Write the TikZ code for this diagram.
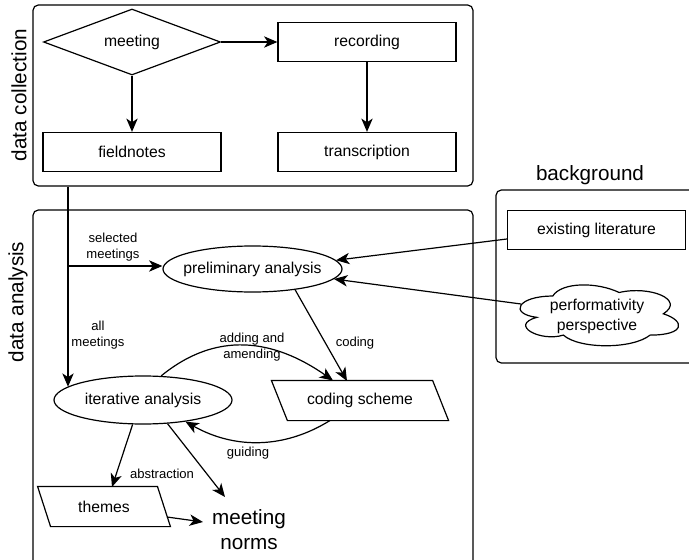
\documentclass[tikz,border=0pt]{standalone}
\usepackage{fontspec}
\setmainfont{Liberation Sans}
\usetikzlibrary{shapes.geometric,arrows.meta,calc}
\begin{document}
\begin{tikzpicture}[x=0.75pt,y=-0.75pt,line width=0.9pt,
  >={Stealth[length=10pt,width=8.5pt,inset=2.8pt]},
  base/.style={font=\fontsize{11.8}{15}\selectfont},
  small/.style={font=\fontsize{9.8}{12}\selectfont,align=center,inner sep=0pt},
  big/.style={font=\fontsize{15.5}{18.75}\selectfont,align=center,inner sep=0pt},
  rectbox/.style={base,draw,rectangle,inner sep=0pt,minimum width=133.5pt,minimum height=29.25pt},
  diamondbox/.style={base,draw,diamond,inner sep=0pt,minimum width=132.75pt,minimum height=49.5pt},
  ellbox/.style={base,draw,ellipse,inner sep=0pt},
  parabox/.style={base,rectangle,inner sep=0pt,minimum height=29.25pt},
  groupbox/.style={draw,rectangle,rounded corners=4pt,inner sep=0pt},
  conn/.style={->}]
\useasboundingbox (0,0) rectangle (689,560);
\clip (0,0) rectangle (689,560);
\fill[white] (0,0) rectangle (689,560);

% group boxes
\node[groupbox,minimum width=330pt,minimum height=135.75pt] (dc) at (253,95.5) {};
\node[groupbox,minimum width=330pt,minimum height=273.75pt] (da) at (253,392.5) {};
\node[groupbox,minimum width=153pt,minimum height=129.75pt] (bg) at (598,276.5) {};
\node[big,rotate=90] (dclabel) at (19,95) {data collection};
\node[big,rotate=90] (dalabel) at (18,302) {data analysis};
\node[big] (bglabel) at (590,175) {background};

% data collection
\node[diamondbox] (meeting) at (132,42) {\makebox[0pt]{meeting}};
\node[rectbox] (recording) at (367,42) {recording};
\node[rectbox] (fieldnotes) at (132,152) {fieldnotes};
\node[rectbox] (transcription) at (367,152) {transcription};
\draw[conn] (meeting) -- (recording);
\draw[conn] (meeting) -- (fieldnotes);
\draw[conn] (recording) -- (transcription);

% background
\node[rectbox] (exist) at (596.5,230) {existing literature};
\node[base,align=center,inner sep=0pt] (persp) at (597,316.5) {performativity\\perspective};
\begin{scope}[shift={($(persp.center)+(-88.5,-38.2)$)},x=132.75pt,y=-53.25pt]
\draw (0.25,0.25) .. controls (0.05,0.25) and (0,0.5) .. (0.16,0.55)
  .. controls (0,0.66) and (0.18,0.9) .. (0.31,0.8)
  .. controls (0.4,1) and (0.7,1) .. (0.8,0.8)
  .. controls (1,0.8) and (1,0.6) .. (0.875,0.5)
  .. controls (1,0.3) and (0.8,0.1) .. (0.625,0.2)
  .. controls (0.5,0.05) and (0.3,0.05) .. (0.25,0.25) -- cycle;
\end{scope}

% data analysis
\node[ellbox,minimum width=134.25pt,minimum height=34.5pt] (prelim) at (252.5,269) {\makebox[0pt]{preliminary analysis}};
\node[ellbox,minimum width=133.5pt,minimum height=36pt] (iter) at (143,400) {\makebox[0pt]{iterative analysis}};
\node[parabox,minimum width=120pt] (coding) at (360,400.5) {coding scheme};
\draw ($(coding.north west)+(-8,0)$) -- ($(coding.north east)+(-8,0)$) -- ($(coding.south east)+(8,0)$) -- ($(coding.south west)+(8,0)$) -- cycle;
\node[parabox,minimum width=89pt] (themes) at (104,506.5) {themes};
\draw ($(themes.north west)+(-6.5,0)$) -- ($(themes.north east)+(-6.5,0)$) -- ($(themes.south east)+(6.5,0)$) -- ($(themes.south west)+(6.5,0)$) -- cycle;
\node[big] (norms) at (249,530) {meeting\\norms};

\coordinate (split) at (68,266);
\draw (dc.south -| split) -- (split);
\draw[conn] (split) -- (split -| prelim.west);
\draw[conn] (split) -- (split |- iter.170);
\node[small] (lsel) at (113,247) {selected\\meetings};
\node[small] (lall) at (98,335) {all\\meetings};

\draw[conn] ($(exist.west)+(0,9)$) -- (prelim.6);
\draw[conn] ($(persp.center)+(-76,-12.5)$) -- (prelim.-7);

\draw[conn] (prelim.-26) -- ($(coding.center)+(-13,-19.5)$);
\node[small] (lcoding) at (355,343) {coding};

\draw[conn] (iter.53) .. controls +(55,-45) and +(-60,-42) .. ($(coding.center)+(-27,-20)$);
\node[small] (ladd) at (252,347) {adding and\\amending};

\draw[conn] ($(coding.center)+(-30,20)$) .. controls +(-45,28) and +(50,28) .. (iter.-27);
\node[small] (lguide) at (248,453) {guiding};

\draw[conn] (iter.-113) -- ($(themes.center)+(8,-19.5)$);
\node[small] (labs) at (162,474) {abstraction};
\draw[conn] (iter.-44) -- ($(norms.center)+(-24,-33)$);
\draw[conn] ($(themes.center)+(63,10.5)$) -- ($(norms.center)+(-46,-8)$);
\end{tikzpicture}
\end{document}
